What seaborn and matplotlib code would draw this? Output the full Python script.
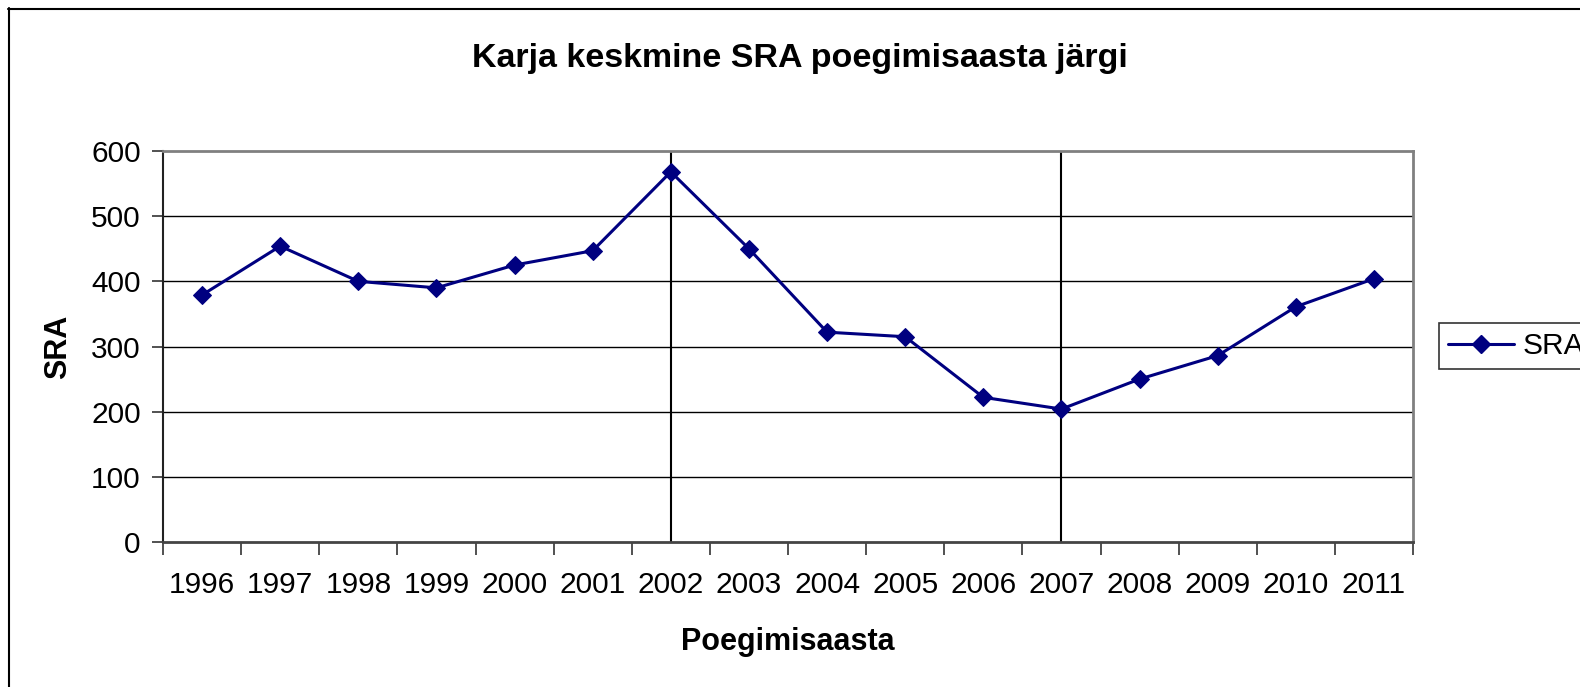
import matplotlib
matplotlib.use("Agg")
import matplotlib.pyplot as plt
import matplotlib.lines as mlines
import seaborn as sns
import pandas as pd
import numpy as np

years = ["1996", "1997", "1998", "1999", "2000", "2001", "2002", "2003",
         "2004", "2005", "2006", "2007", "2008", "2009", "2010", "2011"]
sra = [379, 454, 400, 390, 425, 447, 568, 450,
       322, 315, 222, 204, 250, 286, 361, 404]
marked_years = ["2002", "2007"]
y_ticks = [0, 100, 200, 300, 400, 500, 600]

title = "Karja keskmine SRA poegimisaasta järgi"
x_label = "Poegimisaasta"
y_label = "SRA"
series_name = "SRA"

sns.set_theme(style="white")
plt.rcParams["font.family"] = ["Liberation Sans", "DejaVu Sans"]
for k in ["text.color", "axes.labelcolor", "xtick.color", "ytick.color"]:
    plt.rcParams[k] = "black"

W, H = 1580, 687
fig = plt.figure(figsize=(W / 100, H / 100), dpi=100)
fig.patch.set_facecolor("white")
ax = fig.add_axes([163 / W, 1 - 542 / H, (1413 - 163) / W, (542 - 151) / H])

df = pd.DataFrame({"year": years, "pos": np.arange(len(years)), "SRA": sra})
sns.lineplot(data=df, x="pos", y="SRA", ax=ax, color="#000080", linewidth=2.2,
             marker="D", markersize=9.5, markeredgecolor="#000080",
             markerfacecolor="#000080", sort=False, legend=False)

ax.set_xlim(-0.5, len(years) - 0.5)
ax.set_ylim(y_ticks[0], y_ticks[-1])

for v in y_ticks[1:-1]:
    ax.axhline(v, color="black", linewidth=1, zorder=0)
for yr in marked_years:
    ax.axvline(years.index(yr), color="black", linewidth=1.5, zorder=1)

ax.set_yticks(y_ticks)
ax.set_yticklabels([str(v) for v in y_ticks], fontsize=21.5)
ax.set_xticks(np.arange(len(years)))
ax.set_xticklabels(years, fontsize=21.5)
ax.set_xticks(np.arange(len(years) + 1) - 0.5, minor=True)
ax.tick_params(axis="x", which="major", length=0, pad=21)
ax.tick_params(axis="x", which="minor", length=9, width=1.2, color="#333333", direction="out", bottom=True)
ax.tick_params(axis="y", which="major", length=8, width=1.2, color="#333333", direction="out", pad=8, left=True)

for s in ["top", "right"]:
    ax.spines[s].set_color("#808080")
    ax.spines[s].set_linewidth(2)
ax.spines["left"].set_color("#222222")
ax.spines["left"].set_linewidth(1.5)
ax.spines["bottom"].set_color("#444444")
ax.spines["bottom"].set_linewidth(2)

ax.set_xlabel("")
ax.set_ylabel("")

fig.text(800 / W, 1 - 58 / H, title, ha="center", va="center", fontsize=24.5, fontweight="bold")
fig.text(788 / W, 1 - 642 / H, x_label, ha="center", va="center", fontsize=22, fontweight="bold")
fig.text(58 / W, 1 - 347 / H, y_label, ha="center", va="center", fontsize=22, fontweight="bold", rotation=90)

handle = mlines.Line2D([], [], color="#000080", linewidth=2.2, marker="D", markersize=9.5)
leg = ax.legend([handle], [series_name], loc="center left",
                bbox_to_anchor=(1439 / W, 1 - 346 / H), bbox_transform=fig.transFigure,
                borderaxespad=0, borderpad=0.3, handlelength=2.2, handletextpad=0.3,
                fontsize=21.5, frameon=True, fancybox=False, edgecolor="black")
leg.get_frame().set_linewidth(1.2)

fig.add_artist(mlines.Line2D([8.5 / W, 8.5 / W], [1 - 8 / H, -0.1], color="black", linewidth=1.5,
                             transform=fig.transFigure))
fig.add_artist(mlines.Line2D([8 / W, 1.1], [1 - 8.5 / H, 1 - 8.5 / H], color="black", linewidth=1.5,
                             transform=fig.transFigure))

fig.savefig("out.png", dpi=100)
